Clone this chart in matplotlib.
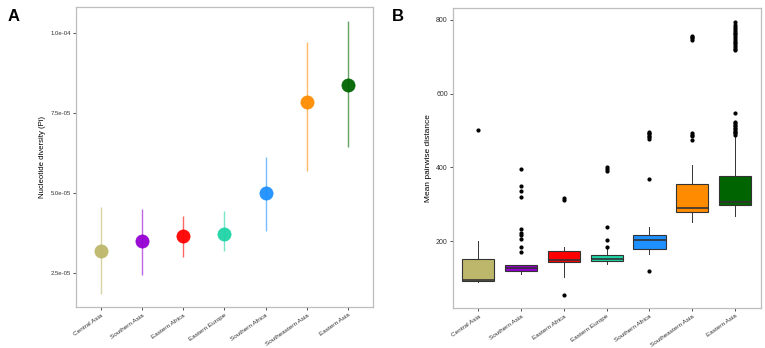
import matplotlib
matplotlib.use("Agg")
import matplotlib.pyplot as plt
from matplotlib.ticker import FixedLocator, FixedFormatter

plt.rcParams['font.family'] = ['Liberation Sans', 'DejaVu Sans']

regions = ["Central Asia", "Southern Asia", "Eastern Africa", "Eastern Europe",
           "Southern Africa", "Southeastern Asia", "Eastern Asia"]
colors = ["#BDB76B", "#9400D3", "#FF0000", "#1ED4A6", "#1E90FF", "#FF8C00", "#006400"]

# Panel A: nucleotide diversity
pi_mean = [3.20e-5, 3.50e-5, 3.67e-5, 3.72e-5, 5.00e-5, 7.85e-5, 8.36e-5]
pi_low = [1.85e-5, 2.46e-5, 3.00e-5, 3.19e-5, 3.83e-5, 5.69e-5, 6.44e-5]
pi_high = [4.58e-5, 4.50e-5, 4.30e-5, 4.43e-5, 6.13e-5, 9.70e-5, 1.036e-4]
pi_ticks = [2.5e-5, 5.0e-5, 7.5e-5, 1.0e-4]
pi_ticklabels = ["2.5e-05", "5.0e-05", "7.5e-05", "1.0e-04"]

# Panel B: mean pairwise distance box statistics
q1 = [93, 120, 143, 146.5, 180, 279, 297]
med = [95, 126.6, 149, 152.8, 202.7, 289.7, 307.6]
q3 = [152, 135.6, 173.6, 162, 218, 354.6, 375.5]
whislo = [89, 111, 102, 137.5, 165.5, 251.6, 268.7]
whishi = [201, 135.6, 185, 178, 238, 407, 488]
fliers = [
    [501],
    [397, 349, 337, 320, 232, 223, 218, 205, 184, 171],
    [313, 318, 54],
    [185, 203, 240, 391, 396, 400],
    [478, 482, 486, 490, 494, 497, 370, 119],
    [746, 750, 754, 757, 473, 484, 488, 493],
    [718, 722, 727, 731, 736, 741, 745, 750, 755, 760, 764, 769, 774, 779, 787, 795,
     488, 492, 496, 500, 504, 508, 512, 516, 520, 524, 547],
]
b_ticks = [200, 400, 600, 800]

fig = plt.figure(figsize=(7.65, 3.48), dpi=100)
axA = fig.add_axes([76 / 765, 41 / 348, 296.7 / 765, 299.7 / 348])
axB = fig.add_axes([452.7 / 765, 40 / 348, 308 / 765, 299.7 / 348])

border = "#BDBDBD"
xs = list(range(len(regions)))
for ax in (axA, axB):
    for s in ax.spines.values():
        s.set_color(border)
        s.set_linewidth(0.9)
    ax.tick_params(axis='both', length=2, width=0.6, color="#333333", pad=1.5)

# Panel A
for i in xs:
    axA.plot([i, i], [pi_low[i], pi_high[i]], color=colors[i], lw=1.0, alpha=0.6,
             solid_capstyle='butt', zorder=2)
    axA.plot([i], [pi_mean[i]], 'o', color=colors[i], markersize=9.5,
             markeredgecolor=colors[i], markeredgewidth=0.5, alpha=0.95, zorder=3)
axA.set_ylim(1.45e-5, 1.0792e-4)
axA.yaxis.set_major_locator(FixedLocator(pi_ticks))
axA.yaxis.set_major_formatter(FixedFormatter(pi_ticklabels))
axA.tick_params(axis='y', labelsize=4.3, labelcolor="#333333")
axA.set_ylabel("Nucleotide diversity (Pi)", fontsize=5.6, labelpad=3)

# Panel B
stats = []
for i in range(len(regions)):
    stats.append(dict(med=med[i], q1=q1[i], q3=q3[i], whislo=whislo[i],
                      whishi=whishi[i], fliers=fliers[i], label=regions[i]))
bp = axB.bxp(stats, positions=xs, widths=0.75, patch_artist=True,
             boxprops=dict(edgecolor="#333333", linewidth=0.8),
             medianprops=dict(color="#333333", linewidth=1.2),
             whiskerprops=dict(color="#333333", linewidth=0.7),
             capprops=dict(linewidth=0),
             flierprops=dict(marker='o', markerfacecolor='black', markeredgecolor='black',
                             markersize=2.0, linestyle='none'))
for patch, c in zip(bp['boxes'], colors):
    patch.set_facecolor(c)
axB.set_ylim(19.4, 830.9)
axB.yaxis.set_major_locator(FixedLocator(b_ticks))
axB.tick_params(axis='y', labelsize=5, labelcolor="#333333")
axB.set_ylabel("Mean pairwise distance", fontsize=6, labelpad=3)

for ax in (axA, axB):
    ax.set_xlim(-0.6, 6.6)
    ax.xaxis.set_major_locator(FixedLocator(xs))
    ax.xaxis.set_major_formatter(FixedFormatter(regions))
    for lab in ax.get_xticklabels():
        lab.set_rotation(35)
        lab.set_ha('right')
        lab.set_rotation_mode('anchor')
        lab.set_fontsize(4.6)
        lab.set_color("#333333")
    ax.tick_params(axis='x', pad=2)

fig.text(8 / 765, 1 - 24 / 348, "A", fontsize=12, fontweight='bold', ha='left', va='bottom')
fig.text(392 / 765, 1 - 24 / 348, "B", fontsize=12, fontweight='bold', ha='left', va='bottom')

fig.savefig("out.png", dpi=100, facecolor='white')
